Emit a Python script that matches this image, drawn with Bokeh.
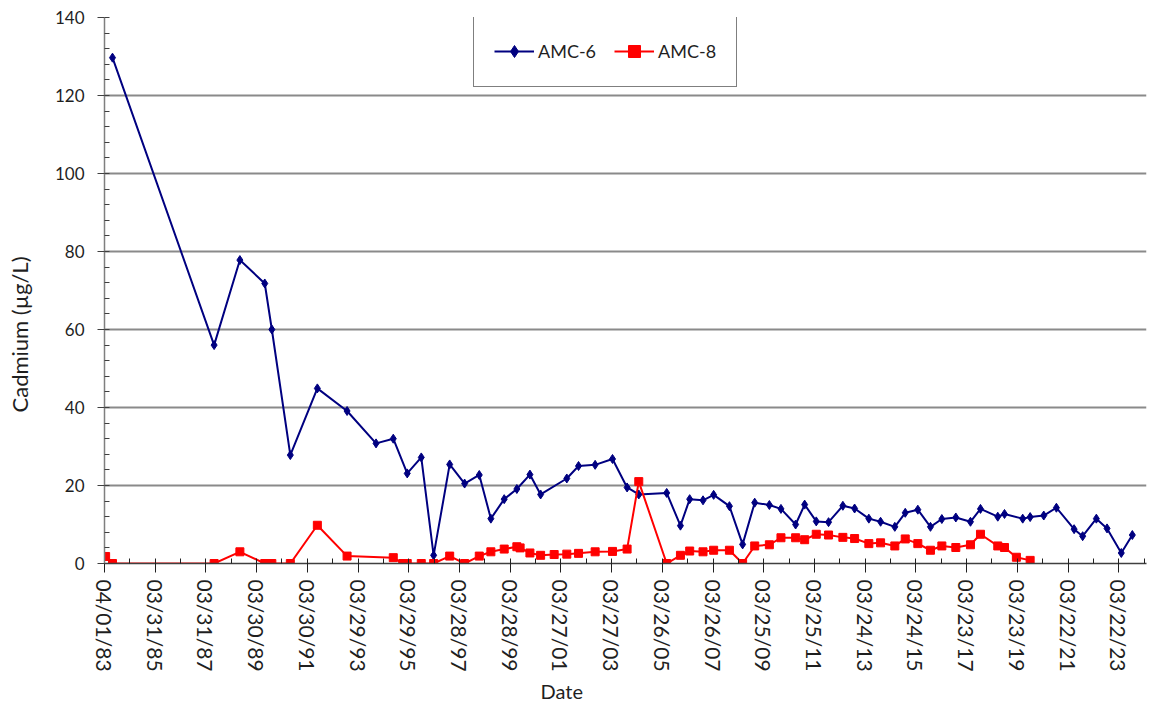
import math
from datetime import datetime, timedelta
import pandas as pd
from bokeh.plotting import figure
from bokeh.models import (ColumnDataSource, FixedTicker, DatetimeTickFormatter,
                          SingleIntervalTicker, Legend, LegendItem, Title, Range1d)
from bokeh.embed import file_html
from bokeh.resources import INLINE

# ---------------- data ----------------
amc6_dates = ["1983-07-25", "1987-07-27", "1988-08-01", "1989-07-25", "1989-11-04", "1990-07-28",
              "1991-08-21", "1992-10-22", "1993-12-13", "1994-08-18", "1995-03-07", "1995-09-25",
              "1996-03-21", "1996-11-07", "1997-06-10", "1998-01-07", "1998-06-23", "1999-01-01",
              "1999-07-02", "2000-01-06", "2000-06-08", "2001-06-20", "2001-12-06", "2002-08-02",
              "2003-04-09", "2003-11-05", "2004-04-21", "2005-05-28", "2005-12-12", "2006-04-24",
              "2006-11-02", "2007-04-04", "2007-11-17", "2008-05-25", "2008-11-15", "2009-06-14",
              "2009-11-28", "2010-06-27", "2010-11-04", "2011-04-20", "2011-10-14", "2012-05-07",
              "2012-10-23", "2013-05-16", "2013-11-01", "2014-05-25", "2014-10-22", "2015-04-21",
              "2015-10-20", "2016-04-01", "2016-10-19", "2017-05-18", "2017-10-09", "2018-06-15",
              "2018-09-20", "2019-06-09", "2019-09-24", "2020-04-07", "2020-10-06", "2021-06-18",
              "2021-10-19", "2022-05-04", "2022-10-05", "2023-04-28", "2023-10-04"]
amc6_values = [129.7, 56.0, 77.8, 71.8, 60.0, 27.8, 44.9, 39.1, 30.8, 32.0, 23.1, 27.2,
               2.1, 25.4, 20.5, 22.7, 11.5, 16.5, 19.1, 22.8, 17.7, 21.8, 25.0, 25.3,
               26.8, 19.5, 17.7, 18.1, 9.7, 16.5, 16.2, 17.6, 14.7, 4.9, 15.6, 15.0,
               14.0, 10.0, 15.1, 10.8, 10.6, 14.8, 14.1, 11.5, 10.7, 9.4, 13.0, 13.8,
               9.4, 11.4, 11.8, 10.7, 14.0, 12.0, 12.7, 11.5, 11.9, 12.3, 14.3, 8.8,
               7.0, 11.5, 9.0, 2.7, 7.3]

amc8_dates = ["1983-04-17", "1983-07-25", "1987-07-27", "1988-08-01", "1989-07-25", "1989-11-04",
              "1990-07-28", "1991-08-21", "1992-10-22", "1994-08-18", "1995-01-01", "1995-03-07",
              "1995-09-25", "1996-03-21", "1996-11-07", "1997-06-10", "1998-01-07", "1998-06-23",
              "1999-01-01", "1999-07-02", "1999-08-18", "2000-01-06", "2000-06-08", "2000-12-20",
              "2001-06-20", "2001-12-06", "2002-08-02", "2003-04-09", "2003-11-05", "2004-04-21",
              "2005-05-28", "2005-12-12", "2006-04-24", "2006-11-02", "2007-04-04", "2007-11-17",
              "2008-05-25", "2008-11-15", "2009-06-14", "2009-11-28", "2010-06-27", "2010-11-04",
              "2011-04-20", "2011-10-14", "2012-05-07", "2012-10-23", "2013-05-16", "2013-11-01",
              "2014-05-25", "2014-10-22", "2015-04-21", "2015-10-20", "2016-04-01", "2016-10-19",
              "2017-05-18", "2017-10-09", "2018-06-15", "2018-09-20", "2019-03-10", "2019-09-24"]
amc8_values = [1.8, 0.0, 0.0, 3.0, 0.0, 0.0, 0.0, 9.8, 1.9, 1.5,
               0.0, 0.0, 0.0, 0.0, 1.9, 0.0, 1.9, 3.0, 3.7, 4.3,
               4.0, 2.7, 2.1, 2.3, 2.4, 2.6, 3.0, 3.1, 3.7, 21.0,
               0.0, 2.1, 3.2, 3.0, 3.4, 3.4, 0.0, 4.5, 4.8, 6.6,
               6.6, 6.1, 7.5, 7.3, 6.7, 6.4, 5.1, 5.3, 4.5, 6.3,
               5.1, 3.4, 4.5, 4.1, 4.8, 7.5, 4.5, 4.1, 1.6, 0.8]

tick_labels = ["04/01/83", "03/31/85", "03/31/87", "03/30/89", "03/30/91", "03/29/93", "03/29/95",
               "03/28/97", "03/28/99", "03/27/01", "03/27/03", "03/26/05", "03/26/07", "03/25/09",
               "03/25/11", "03/24/13", "03/24/15", "03/23/17", "03/23/19", "03/22/21", "03/22/23"]

# ---------------- figure ----------------
x_start = datetime(1983, 4, 1)
x_end = x_start + timedelta(days=15000)
epoch = datetime(1970, 1, 1)

def ms(d):
    return (d - epoch).total_seconds() * 1000.0

major = [ms(datetime.strptime(t, "%m/%d/%y")) for t in tick_labels]
minor = [m + 365 * 86400000.0 for m in major] + [m for m in major]

src6 = ColumnDataSource(dict(x=pd.to_datetime(amc6_dates), y=amc6_values))
src8 = ColumnDataSource(dict(x=pd.to_datetime(amc8_dates), y=amc8_values))

p = figure(width=1160, height=705, x_axis_type="datetime",
           x_range=Range1d(x_start, x_end), y_range=Range1d(0, 140),
           output_backend="svg", toolbar_location=None,
           min_border_left=115, min_border_right=2, min_border_top=17, min_border_bottom=142)
p.styles = {"margin-left": "-12px"}
p.outline_line_color = None
p.background_fill_color = "white"
p.border_fill_color = "white"

BLUE = "#000080"
RED = "#FF0000"
TXT = "#1f1f1f"

l6 = p.line("x", "y", source=src6, line_color=BLUE, line_width=2)
m6 = p.scatter("x", "y", source=src6, marker="diamond", size=9,
               fill_color=BLUE, line_color=BLUE)
l8 = p.line("x", "y", source=src8, line_color=RED, line_width=2)
m8 = p.scatter("x", "y", source=src8, marker="square", size=8,
               fill_color=RED, line_color=RED)

# x axis
p.xaxis.ticker = FixedTicker(ticks=major, minor_ticks=minor)
fmt = "%m/%d/%y"
p.xaxis.formatter = DatetimeTickFormatter(years=fmt, months=fmt, days=fmt, hours=fmt,
                                          minutes=fmt, seconds=fmt, milliseconds=fmt,
                                          microseconds=fmt, hourmin=fmt, minsec=fmt)
p.xaxis.major_label_orientation = -math.pi / 2
p.xaxis.major_label_text_font = "Lato"
p.xaxis.major_label_text_font_size = "21px"
p.xaxis.major_label_text_color = TXT
p.xaxis.major_label_standoff = 7
p.xaxis.axis_line_color = "#404040"
p.xaxis.axis_line_width = 1.5
p.xaxis.major_tick_line_color = "#202020"
p.xaxis.minor_tick_line_color = "#202020"
p.xaxis.major_tick_in = 4
p.xaxis.major_tick_out = 9
p.xaxis.minor_tick_in = 5
p.xaxis.minor_tick_out = 0

# y axis
p.yaxis.ticker = SingleIntervalTicker(interval=20, num_minor_ticks=5)
p.yaxis.major_label_text_font = "Lato"
p.yaxis.major_label_text_font_size = "17px"
p.yaxis.major_label_text_color = TXT
p.yaxis.major_label_standoff = 13
p.yaxis.axis_line_color = "#7f7f7f"
p.yaxis.axis_line_width = 1.5
p.yaxis.major_tick_line_color = "#404040"
p.yaxis.minor_tick_line_color = "#404040"
p.yaxis.major_tick_in = 0
p.yaxis.major_tick_out = 7
p.yaxis.minor_tick_in = 5
p.yaxis.minor_tick_out = 0

p.xgrid.visible = False
p.ygrid.grid_line_color = "#8a8a8a"
p.ygrid.grid_line_width = 2

# axis titles (offset along the axis like the reference)
p.add_layout(Title(text="Date", align="left", offset=436, standoff=5,
                   text_font="Lato", text_font_size="20px", text_font_style="normal",
                   text_color=TXT), "below")
p.add_layout(Title(text="Cadmium (µg/L)", align="left", offset=151, standoff=34,
                   vertical_align="top",
                   text_font="Lato", text_font_size="22px", text_font_style="normal",
                   text_color=TXT), "left")

legend = Legend(items=[LegendItem(label="AMC-6", renderers=[l6, m6]),
                       LegendItem(label="AMC-8", renderers=[l8, m8])],
                location=(369, 476), orientation="horizontal")
legend.label_text_font = "Lato"
legend.label_text_font_size = "18px"
legend.label_text_color = TXT
legend.border_line_color = "black"
legend.border_line_width = 1
legend.background_fill_alpha = 1
legend.padding = 20
legend.margin = 0
legend.spacing = 18
legend.glyph_width = 40
legend.glyph_height = 30
legend.label_standoff = 4
legend.label_height = 30
p.add_layout(legend)

open("out.html", "w").write(file_html(p, INLINE))
